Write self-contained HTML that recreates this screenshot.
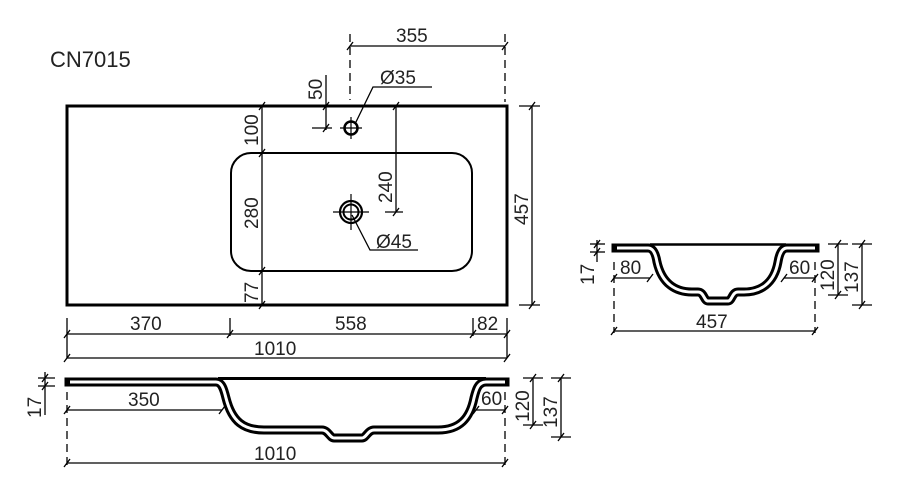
<!DOCTYPE html>
<html><head><meta charset="utf-8"><style>
html,body{margin:0;padding:0;background:#fff;}
svg{display:block;}
text{font-family:"Liberation Sans",sans-serif;font-size:19px;fill:#222;}
</style></head><body>
<svg width="900" height="500" viewBox="0 0 900 500" xmlns="http://www.w3.org/2000/svg">
<defs>
<g id="t"><line x1="-3" y1="4" x2="3" y2="-4" stroke="#000" stroke-width="1.3"/></g>
</defs>
<text x="50" y="67" style="font-size:22px">CN7015</text>

<!-- top view -->
<rect x="67" y="106" width="440" height="199" fill="none" stroke="#000" stroke-width="3"/>
<rect x="231" y="153" width="241" height="118" rx="20" fill="none" stroke="#000" stroke-width="2"/>
<g stroke="#000" fill="none">
<circle cx="351" cy="128" r="6.5" stroke-width="2.5"/>
<line x1="340" y1="128" x2="362" y2="128" stroke-width="1.2"/>
<line x1="351" y1="117" x2="351" y2="139" stroke-width="1.2"/>
<circle cx="351" cy="212" r="11" stroke-width="2.2"/>
<circle cx="351" cy="212" r="7.5" stroke-width="2"/>
<line x1="333" y1="212" x2="369" y2="212" stroke-width="1.2"/>
<line x1="351" y1="194" x2="351" y2="230" stroke-width="1.2"/>
</g>
<g stroke="#000" stroke-width="1.3" fill="none">
<line x1="350" y1="46" x2="505" y2="46"/>
<line x1="350" y1="34" x2="350" y2="100" stroke-dasharray="8,5"/>
<line x1="505" y1="34" x2="505" y2="102" stroke-dasharray="8,5"/>
<polyline points="355,124 373,87 432,87"/>
<line x1="326" y1="75" x2="326" y2="130"/>
<line x1="312" y1="128" x2="332" y2="128"/>
<line x1="262" y1="106" x2="262" y2="305"/>
<line x1="396" y1="106" x2="396" y2="212"/>
<line x1="385" y1="212" x2="403" y2="212"/>
<polyline points="352,215 370,250 418,250"/>
<line x1="532" y1="106" x2="532" y2="305"/>
<line x1="519" y1="106" x2="540" y2="106"/>
<line x1="519" y1="305" x2="540" y2="305"/>
<line x1="67" y1="318" x2="67" y2="358"/>
<line x1="507" y1="318" x2="507" y2="358"/>
<line x1="230" y1="318" x2="230" y2="336"/>
<line x1="473" y1="318" x2="473" y2="336"/>
<line x1="67" y1="334" x2="507" y2="334"/>
<line x1="67" y1="358" x2="507" y2="358"/>
</g>
<g>
<use href="#t" x="350" y="46"/><use href="#t" x="505" y="46"/>
<use href="#t" x="326" y="106"/><use href="#t" x="326" y="128"/>
<use href="#t" x="262" y="106"/><use href="#t" x="262" y="153"/><use href="#t" x="262" y="271"/><use href="#t" x="262" y="305"/>
<use href="#t" x="396" y="106"/><use href="#t" x="396" y="212"/>
<use href="#t" x="532" y="106"/><use href="#t" x="532" y="305"/>
<use href="#t" x="67" y="334"/><use href="#t" x="230" y="334"/><use href="#t" x="473" y="334"/><use href="#t" x="507" y="334"/>
<use href="#t" x="67" y="358"/><use href="#t" x="507" y="358"/>
</g>
<text x="396" y="42">355</text>
<text x="380" y="84">Ø35</text>
<text transform="translate(322,100) rotate(-90)">50</text>
<text transform="translate(258,146) rotate(-90)">100</text>
<text transform="translate(258,229) rotate(-90)">280</text>
<text transform="translate(258,303) rotate(-90)">77</text>
<text transform="translate(392,203) rotate(-90)">240</text>
<text x="376" y="248">Ø45</text>
<text transform="translate(528,225) rotate(-90)">457</text>
<text x="130" y="330">370</text>
<text x="335" y="330">558</text>
<text x="477" y="330">82</text>
<text x="254" y="355">1010</text>

<!-- side view -->
<g fill="none" stroke-linejoin="round">
<path d="M69,382 H216 C222,382 224,390 226,398 C232,422 244,430 264,430 H322 C328,430 330,438 334,438 H362 C366,438 368,430 374,430 H438 C460,430 470,418 474,398 C476,390 478,382 486,382 H505" stroke="#000" stroke-width="9" stroke-linecap="square"/>
<path d="M70,382 H216 C222,382 224,390 226,398 C232,422 244,430 264,430 H322 C328,430 330,438 334,438 H362 C366,438 368,430 374,430 H438 C460,430 470,418 474,398 C476,390 478,382 486,382 H505" stroke="#fff" stroke-width="3"/>
<line x1="218" y1="378.5" x2="486" y2="378.5" stroke="#000" stroke-width="3"/>
</g>
<g stroke="#000" stroke-width="1.3" fill="none">
<line x1="45" y1="372" x2="45" y2="415"/>
<line x1="38" y1="378" x2="55" y2="378"/><line x1="38" y1="386" x2="55" y2="386"/>
<line x1="67" y1="410" x2="222" y2="410"/>
<line x1="67" y1="392" x2="67" y2="465" stroke-dasharray="8,5"/>
<line x1="505" y1="392" x2="505" y2="465" stroke-dasharray="8,5"/>
<line x1="476" y1="410" x2="505" y2="410"/>
<line x1="67" y1="463" x2="505" y2="463"/>
<line x1="533" y1="378" x2="533" y2="425"/>
<line x1="523" y1="378" x2="543" y2="378"/><line x1="523" y1="425" x2="543" y2="425"/>
<line x1="561" y1="378" x2="561" y2="437"/>
<line x1="551" y1="378" x2="571" y2="378"/><line x1="551" y1="437" x2="571" y2="437"/>
</g>
<g>
<use href="#t" x="67" y="410"/><use href="#t" x="222" y="410"/>
<use href="#t" x="476" y="410"/><use href="#t" x="505" y="410"/>
<use href="#t" x="67" y="463"/><use href="#t" x="505" y="463"/>
<use href="#t" x="533" y="378"/><use href="#t" x="533" y="425"/>
<use href="#t" x="561" y="378"/><use href="#t" x="561" y="437"/>
<use href="#t" x="45" y="378"/><use href="#t" x="45" y="386"/>
</g>
<text transform="translate(41,418) rotate(-90)">17</text>
<text x="128" y="406">350</text>
<text x="481" y="405">60</text>
<text transform="translate(529,422) rotate(-90)">120</text>
<text transform="translate(557,428) rotate(-90)">137</text>
<text x="254" y="460">1010</text>

<!-- right view -->
<g fill="none" stroke-linejoin="round">
<path d="M616,248 H648 C654,248 656,256 657,262 C662,284 676,292 692,292 H698 C704,292 704,301 708,301 H728 C732,301 732,292 738,292 H744 C760,292 774,284 778,262 C779,256 781,248 787,248 H815" stroke="#000" stroke-width="9" stroke-linecap="square"/>
<path d="M617,248 H648 C654,248 656,256 657,262 C662,284 676,292 692,292 H698 C704,292 704,301 708,301 H728 C732,301 732,292 738,292 H744 C760,292 774,284 778,262 C779,256 781,248 787,248 H815" stroke="#fff" stroke-width="3"/>
<line x1="650" y1="244.5" x2="786" y2="244.5" stroke="#000" stroke-width="2.5"/>
</g>
<g stroke="#000" stroke-width="1.3" fill="none">
<line x1="597" y1="240" x2="597" y2="262"/>
<line x1="590" y1="244" x2="605" y2="244"/><line x1="590" y1="252" x2="605" y2="252"/>
<line x1="614" y1="278" x2="650" y2="278"/>
<line x1="784" y1="278" x2="815" y2="278"/>
<line x1="614" y1="262" x2="614" y2="333" stroke-dasharray="8,5"/>
<line x1="815" y1="262" x2="815" y2="333" stroke-dasharray="8,5"/>
<line x1="614" y1="331" x2="815" y2="331"/>
<line x1="838" y1="244" x2="838" y2="295"/>
<line x1="828" y1="244" x2="848" y2="244"/><line x1="828" y1="295" x2="848" y2="295"/>
<line x1="862" y1="244" x2="862" y2="305"/>
<line x1="852" y1="244" x2="872" y2="244"/><line x1="852" y1="305" x2="872" y2="305"/>
</g>
<g>
<use href="#t" x="614" y="278"/><use href="#t" x="650" y="278"/>
<use href="#t" x="784" y="278"/><use href="#t" x="815" y="278"/>
<use href="#t" x="614" y="331"/><use href="#t" x="815" y="331"/>
<use href="#t" x="838" y="244"/><use href="#t" x="838" y="295"/>
<use href="#t" x="862" y="244"/><use href="#t" x="862" y="305"/>
<use href="#t" x="597" y="244"/><use href="#t" x="597" y="252"/>
</g>
<text transform="translate(594,285) rotate(-90)">17</text>
<text x="620" y="274">80</text>
<text x="789" y="274">60</text>
<text transform="translate(834,291) rotate(-90)">120</text>
<text transform="translate(858,293) rotate(-90)">137</text>
<text x="696" y="328">457</text>
</svg>
</body></html>
